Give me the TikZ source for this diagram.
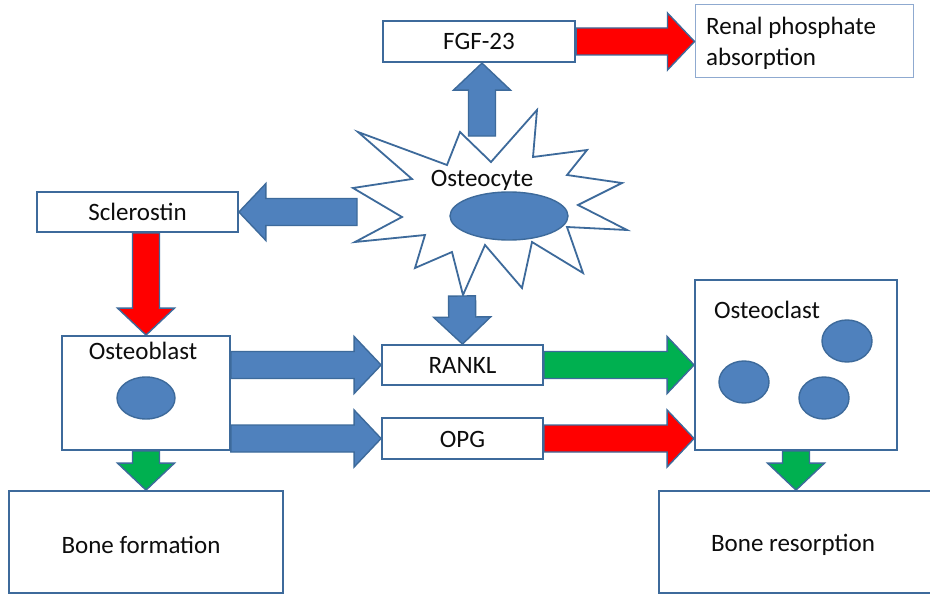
\documentclass[tikz,border=0pt]{standalone}
\usepackage{fontspec}
\setmainfont{Carlito}
\usetikzlibrary{calc,shapes.geometric}
\definecolor{ofblue}{HTML}{4F81BD}
\definecolor{ofline}{HTML}{3D6A9B}
\definecolor{ofred}{HTML}{FF0000}
\definecolor{ofgreen}{HTML}{00B050}
\definecolor{lightline}{HTML}{8FAAD0}
\definecolor{txt}{HTML}{0D0D0D}
\newcommand\blockarrow[3]{%
\path[fill=#3,draw=ofline,line width=1.4pt,line join=miter]
 let \p1=(#1), \p2=(#2), \n1={atan2(\y2-\y1,\x2-\x1)}, \n2={veclen(\x2-\x1,\y2-\y1)-27pt} in
 ($(\p1)+(\n1+90:13.5pt)$) -- ($(\p1)+(\n1:\n2)+(\n1+90:13.5pt)$) -- ($(\p1)+(\n1:\n2)+(\n1+90:28.5pt)$) -- (\p2)
 -- ($(\p1)+(\n1:\n2)+(\n1-90:28.5pt)$) -- ($(\p1)+(\n1:\n2)+(\n1-90:13.5pt)$) -- ($(\p1)+(\n1-90:13.5pt)$) -- cycle;}
\tikzset{
  lbl/.style={font=\fontsize{25}{31}\selectfont, text=txt, inner sep=0pt},
  box/.style={lbl, draw=ofline, line width=1.8pt, fill=white, text height=18pt, text depth=1pt},
  emptybox/.style={draw=ofline, line width=1.8pt, fill=white, inner sep=0pt},
  nucleus/.style={ellipse, draw=ofline, fill=ofblue, line width=1.4pt, inner sep=0pt},
}
\begin{document}
\begin{tikzpicture}[x=1pt,y=-1pt]
\useasboundingbox[fill=white] (0,0) rectangle (930,594);
% boxes
\node[box, line width=2.2pt, minimum width=192pt, minimum height=41pt] (fgf) at (479,41.5) {FGF-23};
\node[draw=lightline, line width=1pt, fill=white, inner sep=0pt, minimum width=218pt, minimum height=73pt] (renal) at (804,41.5) {};
\node[lbl, anchor=west, align=left] (renaltext) at (706,43.5) {Renal phosphate\\absorption};
\node[box, minimum width=201pt, minimum height=40pt] (scler) at (137.5,212) {Sclerostin};
\node[emptybox, minimum width=168pt, minimum height=114pt] (ob) at (146,393) {};
\node[lbl] (obtext) at (143,351) {Osteoblast};
\node[nucleus, minimum width=58pt, minimum height=42pt] (obnuc) at (146,398) {};
\node[box, minimum width=161pt, minimum height=40pt] (rankl) at (462.5,365) {RANKL};
\node[box, minimum width=161pt, minimum height=41pt] (opg) at (462.5,438.5) {OPG};
\node[emptybox, minimum width=202pt, minimum height=170pt] (oc) at (796,365) {};
\node[lbl] (octext) at (767,310) {Osteoclast};
\node[nucleus, minimum width=50pt, minimum height=42pt] (ocn1) at (744,382) {};
\node[nucleus, minimum width=50pt, minimum height=42pt] (ocn2) at (847,341) {};
\node[nucleus, minimum width=50pt, minimum height=42pt] (ocn3) at (824,398) {};
\node[emptybox, minimum width=274pt, minimum height=102pt] (bf) at (146,542) {};
\node[lbl] (bftext) at (141,545) {Bone formation};
\node[emptybox, minimum width=272pt, minimum height=102pt] (br) at (795,542) {};
\node[lbl] (brtext) at (793,545) {Bone resorption};
% osteocyte starburst
\draw[ofline, fill=white, line width=1.8pt, line join=miter]
  (358,132) -- (447,165) -- (460,132) -- (491,162) -- (537,110) -- (533,157) -- (587,150)
  -- (567,175) -- (622,183) -- (578,205) -- (627,230) -- (567,227) -- (583,273) -- (532,242)
  -- (522,288) -- (485,245) -- (463,295) -- (452,252) -- (415,268) -- (425,235) -- (355,242)
  -- (402,217) -- (353,188) -- (412,179) -- cycle;
\node[lbl] (octtext) at (482,180) {Osteocyte};
\node[nucleus, minimum width=118pt, minimum height=48pt] (octnuc) at (509,216) {};
\coordinate (upstart) at (482,136);
\coordinate (leftstart) at (357,212);
\coordinate (downstart) at (462,296);
% arrows
\blockarrow{fgf.east}{renal.west}{ofred}
\blockarrow{upstart}{upstart |- fgf.south}{ofblue}
\blockarrow{leftstart}{scler.east}{ofblue}
\blockarrow{scler.south -| ob.north}{ob.north}{ofred}
\blockarrow{downstart}{rankl.north}{ofblue}
\blockarrow{ob.east |- rankl.west}{rankl.west}{ofblue}
\blockarrow{ob.east |- opg.west}{opg.west}{ofblue}
\blockarrow{rankl.east}{oc.west |- rankl.east}{ofgreen}
\blockarrow{opg.east}{oc.west |- opg.east}{ofred}
\blockarrow{ob.south}{ob.south |- bf.north}{ofgreen}
\blockarrow{oc.south}{oc.south |- br.north}{ofgreen}
\end{tikzpicture}
\end{document}
